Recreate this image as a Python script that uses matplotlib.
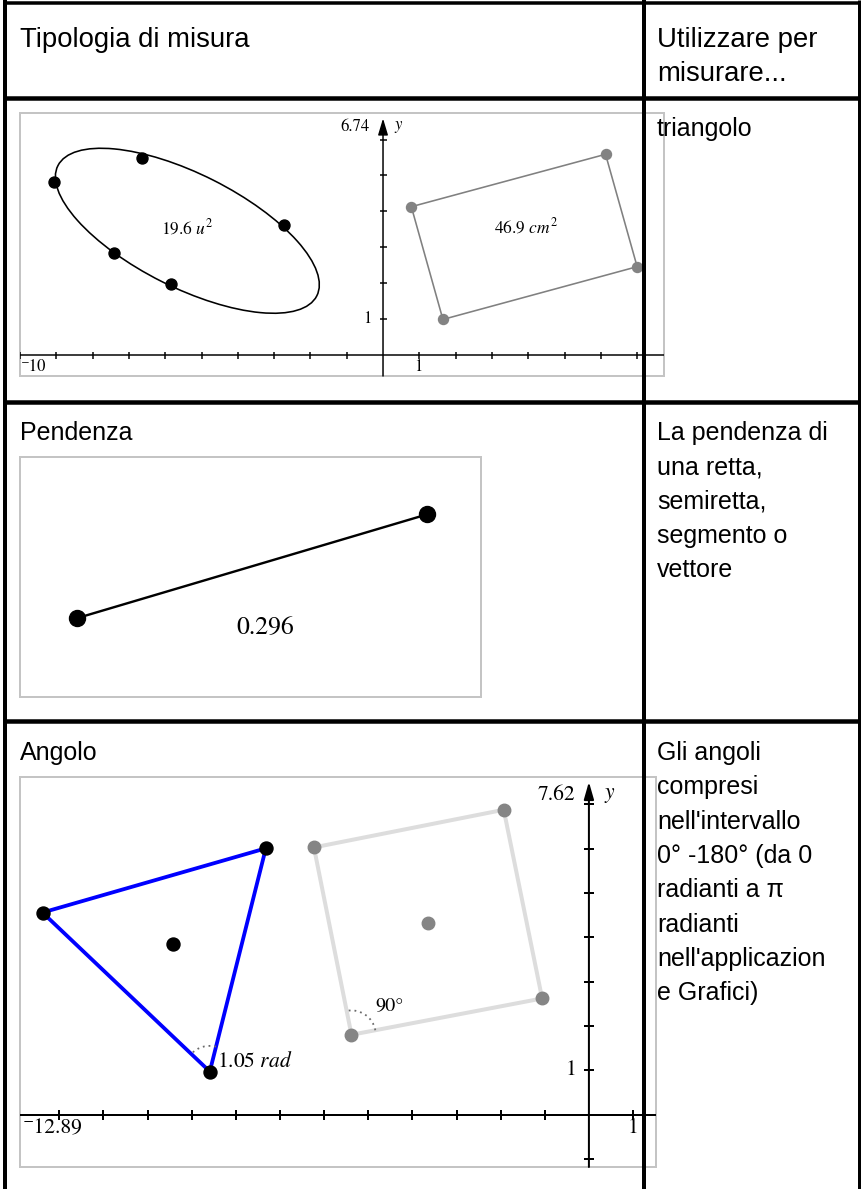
import numpy as np
import matplotlib
matplotlib.use("Agg")
import matplotlib.pyplot as plt
from matplotlib.patches import Ellipse, Polygon, Rectangle, Arc

plt.rcParams['mathtext.fontset'] = 'stix'

W, H, DPI = 862, 1189, 100
SANS = ['Liberation Sans', 'DejaVu Sans']
SERIF = ['STIXGeneral', 'DejaVu Serif']

# ---------------- data ----------------
header_col1 = "Tipologia di misura"
header_col2 = ["Utilizzare per", "misurare..."]

row_titles = ["", "Pendenza", "Angolo"]
row_desc = [
    ["triangolo"],
    ["La pendenza di", "una retta,", "semiretta,", "segmento o", "vettore"],
    ["Gli angoli", "compresi", "nell'intervallo", "0° -180° (da 0",
     "radianti a π", "radianti", "nell'applicazion", "e Grafici)"],
]

# Row 1 : area measurement (graph window)
area_xmin, area_xmax = -10.0, 7.74
area_ymin, area_ymax = -0.585, 6.74
area_xticks = [-10, -9, -8, -7, -6, -5, -4, -3, -2, -1, 1, 2, 3, 4, 5, 6, 7]
area_yticks = [1, 2, 3, 4, 5, 6]
ellipse_center = (-5.39, 3.46)
ellipse_size = (8.0, 3.16)
ellipse_angle = -27.0
ellipse_pts_x = [-9.05, -6.64, -2.74, -7.42, -5.83]
ellipse_pts_y = [4.83, 5.48, 3.62, 2.83, 1.97]
ellipse_area = "19.6"
rect_x = [0.78, 6.13, 7.00, 1.65]
rect_y = [4.13, 5.59, 2.46, 0.99]
rect_area = "46.9"

# Row 2 : slope
seg_x = [1.62, 11.64]
seg_y = [2.25, 5.22]
slope_value = "0.296"

# Row 3 : angle
ang_xmin, ang_xmax = -12.89, 1.52
ang_ymin, ang_ymax = -1.185, 7.62
ang_xticks = [-12, -11, -10, -9, -8, -7, -6, -5, -4, -3, -2, -1, 1]
ang_yticks = [-1, 1, 2, 3, 4, 5, 6, 7]
tri_x = [-7.32, -12.38, -8.59]
tri_y = [6.01, 4.56, 0.97]
tri_centroid = (-9.43, 3.85)
tri_angle = "1.05"
sq_x = [-6.23, -1.93, -1.06, -5.38]
sq_y = [6.03, 6.88, 2.62, 1.80]
sq_center = (-3.65, 4.33)
sq_angle = "90°"

# ---------------- helpers ----------------
fig = plt.figure(figsize=(W / DPI, H / DPI), dpi=DPI)


def pt(p):
    return p * 72.0 / DPI


def px_axes(x0, y0, x1, y1, z=1):
    ax = fig.add_axes([x0 / W, 1 - y1 / H, (x1 - x0) / W, (y1 - y0) / H], zorder=z)
    ax.set_xticks([])
    ax.set_yticks([])
    for s in ax.spines.values():
        s.set_visible(False)
    ax.add_patch(Rectangle((0, 0), 1, 1, transform=ax.transAxes, fill=False,
                           ec='#c4c4c4', lw=pt(2), clip_on=False, zorder=0))
    return ax


def coord_axes(ax, xticks, yticks, ymin, tip, lw, tick, head):
    ax.axhline(0, color='k', lw=pt(lw), zorder=1)
    ax.annotate('', xy=(0, tip), xytext=(0, ymin),
                arrowprops=dict(arrowstyle='-|>,head_length=%.2f,head_width=%.2f' % head,
                                color='k', lw=pt(lw), shrinkA=0, shrinkB=0),
                zorder=1, annotation_clip=False)
    ax.plot(xticks, [0] * len(xticks), ls='none', marker='|', ms=pt(tick),
            mew=pt(lw), color='k', zorder=1)
    ax.plot([0] * len(yticks), yticks, ls='none', marker='_', ms=pt(tick),
            mew=pt(lw), color='k', zorder=1)


def corner_arc(ax, vx, vy, px1, py1, px2, py2, r, lw):
    a1 = np.degrees(np.arctan2(py1 - vy, px1 - vx))
    a2 = np.degrees(np.arctan2(py2 - vy, px2 - vx))
    t1, t2 = min(a1, a2), max(a1, a2)
    ax.add_patch(Arc((vx, vy), 2 * r, 2 * r, theta1=t1, theta2=t2,
                     ls=(0, (1, 2.2)), color='#6a6a6a', lw=pt(lw), zorder=3))


# ---------------- row 1 : area ----------------
ax1 = px_axes(20, 113, 664, 376)
ax1.set_xlim(area_xmin, area_xmax)
ax1.set_ylim(area_ymin, area_ymax)
coord_axes(ax1, area_xticks, area_yticks, area_ymin, 6.59, 1.5, 7, (1.0, 0.3))
ax1.add_patch(Ellipse(ellipse_center, ellipse_size[0], ellipse_size[1], angle=ellipse_angle,
                      fill=False, ec='k', lw=pt(1.6), zorder=2))
ax1.plot(ellipse_pts_x, ellipse_pts_y, 'o', ms=pt(11), color='k', zorder=4)
ax1.text(-5.38, 3.54, ellipse_area + r' $u^{2}$', ha='center', va='center',
         fontsize=12.5, family=SERIF)
ax1.add_patch(Polygon(np.column_stack([rect_x, rect_y]), closed=True, fill=False,
                      ec='#808080', lw=pt(1.6), zorder=2))
ax1.plot(rect_x, rect_y, 'o', ms=pt(10), color='#838383', zorder=4)
ax1.text(3.93, 3.55, rect_area + r' $cm^{2}$', ha='center', va='center',
         fontsize=12.5, family=SERIF)
ax1.text(-9.97, -0.33, '⁻10', ha='left', va='center', fontsize=12, family=SERIF)
ax1.text(0.98, -0.33, '1', ha='center', va='center', fontsize=12, family=SERIF)
ax1.text(-0.31, 1.0, '1', ha='right', va='center', fontsize=12, family=SERIF)
ax1.text(-0.37, 6.35, '6.74', ha='right', va='center', fontsize=12, family=SERIF)
ax1.text(0.30, 6.35, r'$y$', ha='left', va='center', fontsize=12, family=SERIF)

# ---------------- row 2 : slope ----------------
ax2 = px_axes(20, 457, 481, 697)
ax2.set_xlim(0, 461 / 35)
ax2.set_ylim(0, 240 / 35)
ax2.plot(seg_x, seg_y, '-', color='k', lw=pt(2.4), zorder=2)
ax2.plot(seg_x, seg_y, 'o', ms=pt(16), color='k', zorder=3)
ax2.text(7.02, 1.96, slope_value, ha='center', va='center', fontsize=18.5, family=SERIF)

# ---------------- row 3 : angle ----------------
ax3 = px_axes(20, 777, 656, 1167)
ax3.set_xlim(ang_xmin, ang_xmax)
ax3.set_ylim(ang_ymin, ang_ymax)
coord_axes(ax3, ang_xticks, ang_yticks, ang_ymin, 7.51, 2.0, 10, (1.05, 0.3))
ax3.add_patch(Polygon(np.column_stack([sq_x, sq_y]), closed=True, fill=False,
                      ec='#dddddd', lw=pt(4), zorder=2))
ax3.add_patch(Polygon(np.column_stack([tri_x, tri_y]), closed=True, fill=False,
                      ec='#0000ff', lw=pt(3.8), zorder=2, joinstyle='round'))
corner_arc(ax3, sq_x[3], sq_y[3], sq_x[0], sq_y[0], sq_x[2], sq_y[2], 0.55, 1.8)
corner_arc(ax3, tri_x[2], tri_y[2], tri_x[1], tri_y[1], tri_x[0], tri_y[0], 0.58, 1.8)
ax3.plot(sq_x + [sq_center[0]], sq_y + [sq_center[1]], 'o', ms=pt(12.5),
         color='#858585', zorder=4)
ax3.plot(tri_x + [tri_centroid[0]], tri_y + [tri_centroid[1]], 'o', ms=pt(13),
         color='k', zorder=4)
ax3.text(-8.43, 1.19, tri_angle + r' $rad$', ha='left', va='center', fontsize=15.5,
         family=SERIF)
ax3.text(-4.51, 2.43, sq_angle, ha='center', va='center', fontsize=14.5, family=SERIF)
ax3.text(-12.84, -0.31, '⁻12.89', ha='left', va='center', fontsize=15.5, family=SERIF)
ax3.text(0.99, -0.31, '1', ha='center', va='center', fontsize=15.5, family=SERIF)
ax3.text(-0.29, 1.0, '1', ha='right', va='center', fontsize=15.5, family=SERIF)
ax3.text(-0.32, 7.22, '7.62', ha='right', va='center', fontsize=15.5, family=SERIF)
ax3.text(0.34, 7.22, r'$y$', ha='left', va='center', fontsize=15.5, family=SERIF)

# ---------------- table overlay ----------------
ov = fig.add_axes([0, 0, 1, 1], zorder=10)
ov.set_xlim(0, W)
ov.set_ylim(H, 0)
ov.axis('off')
ov.patch.set_alpha(0)

for x, w in [(4.7, 4), (644.5, 4), (859.3, 3)]:
    ov.plot([x, x], [0, H], color='k', lw=pt(w), solid_capstyle='butt')
for y, w in [(3.3, 3.5), (97.5, 4.5), (401.7, 4.5), (721.0, 4.5)]:
    ov.plot([3, 861], [y, y], color='k', lw=pt(w), solid_capstyle='butt')

ov.text(20, 47, header_col1, fontsize=19.8, family=SANS, va='baseline', ha='left')
for i, line in enumerate(header_col2):
    ov.text(657, 47 + 34.3 * i, line, fontsize=19.8, family=SANS, va='baseline', ha='left')

row_base = [136, 440, 760]
for title, desc, yb in zip(row_titles, row_desc, row_base):
    if title:
        ov.text(20, yb, title, fontsize=18, family=SANS, va='baseline', ha='left')
    for i, line in enumerate(desc):
        ov.text(657, yb + 34.3 * i, line, fontsize=18, family=SANS, va='baseline',
                ha='left')

fig.savefig('out.png', dpi=DPI)
